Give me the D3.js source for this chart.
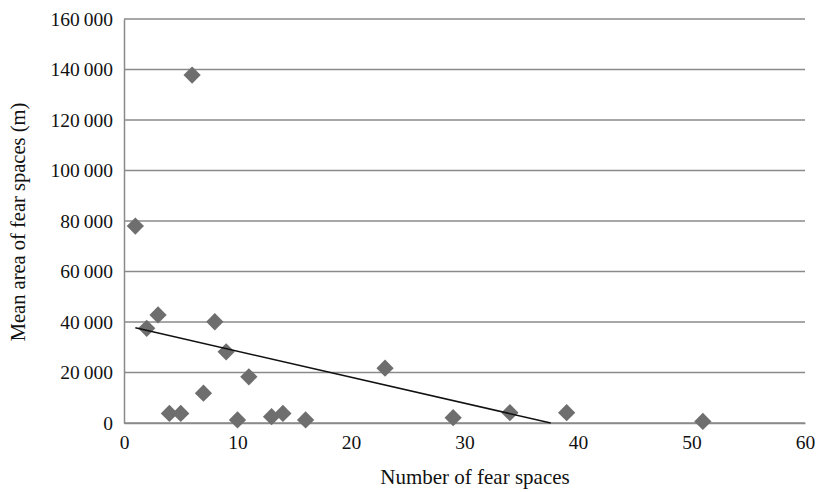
<!DOCTYPE html>
<html>
<head>
<meta charset="utf-8">
<script src="https://cdn.jsdelivr.net/npm/d3@7"></script>
<style>
  body { margin: 0; background: #fff; }
  svg text { font-family: "Liberation Serif", "Times New Roman", serif; fill: #111; }
</style>
</head>
<body>
<svg id="chart" width="816" height="492"></svg>
<script>
// number of fear spaces / mean area (m) per site
const fearCount = [1, 2, 3, 4, 5, 6, 7, 8, 9, 10, 11, 13, 14, 16, 23, 29, 34, 39, 51];
const meanArea = [78000, 37500, 42800, 3800, 3800, 137800, 11800, 40100, 28200, 1200, 18300, 2500, 3800, 1200, 21700, 2100, 4100, 4100, 600];
// linear trendline (start, where it meets the x axis)
const trendX = [1, 37.6];
const trendY = [37700, 0];
const xTicks = [0, 10, 20, 30, 40, 50, 60];
const yTicks = [0, 20000, 40000, 60000, 80000, 100000, 120000, 140000, 160000];

const W = 816, H = 492;
const margin = {top: 19, right: 11, bottom: 69, left: 124};
const FONT = '"Liberation Serif", "Times New Roman", serif';

const svg = d3.select('#chart');

const x = d3.scaleLinear()
  .domain([0, 60])
  .range([margin.left, W - margin.right]);
const y = d3.scaleLinear()
  .domain([0, 160000])
  .range([H - margin.bottom, margin.top]);

// thousands separated by a thin space, like the original
const fmt = v => d3.format(',')(v).replace(/,/g, '\u2009');

// horizontal grid
svg.append('g')
  .selectAll('line').data(yTicks)
  .enter().append('line')
  .attr('x1', x(0)).attr('x2', x(60))
  .attr('y1', d => y(d)).attr('y2', d => y(d))
  .style('stroke', '#8a8a8a')
  .style('stroke-width', 1.5);

// y axis
const yAxis = svg.append('g')
  .attr('transform', `translate(${x(0)},0)`)
  .call(d3.axisLeft(y).tickValues(yTicks).tickFormat(fmt).tickSize(0).tickPadding(11));
yAxis.attr('font-family', FONT).attr('font-size', 19.5);
yAxis.select('.domain').style('stroke', '#8a8a8a').style('stroke-width', 1.5);

// x axis
const xAxis = svg.append('g')
  .attr('transform', `translate(0,${y(0)})`)
  .call(d3.axisBottom(x).tickValues(xTicks).tickSize(0).tickPadding(12));
xAxis.attr('font-family', FONT).attr('font-size', 19.5);
xAxis.select('.domain').style('stroke', '#8a8a8a').style('stroke-width', 1.5);

// points
const pts = fearCount.map((c, i) => [c, meanArea[i]]);
svg.append('g').classed('points', true)
  .selectAll('path').data(pts)
  .enter().append('path')
  .attr('d', d3.symbol().type(d3.symbolDiamond2).size(190))
  .attr('transform', d => `translate(${x(d[0])},${y(d[1])})`)
  .attr('fill', '#6e6e6e');

// trendline
svg.append('line')
  .attr('x1', x(trendX[0])).attr('y1', y(trendY[0]))
  .attr('x2', x(trendX[1])).attr('y2', y(trendY[1]))
  .style('stroke', '#111')
  .style('stroke-width', 1.6);

// axis titles
svg.append('text')
  .attr('x', 475).attr('y', 484)
  .attr('text-anchor', 'middle')
  .attr('font-size', 21)
  .text('Number of fear spaces');

svg.append('text')
  .attr('transform', 'translate(25,222) rotate(-90)')
  .attr('text-anchor', 'middle')
  .attr('font-size', 20.5)
  .text('Mean area of fear spaces (m)');
</script>
</body>
</html>
